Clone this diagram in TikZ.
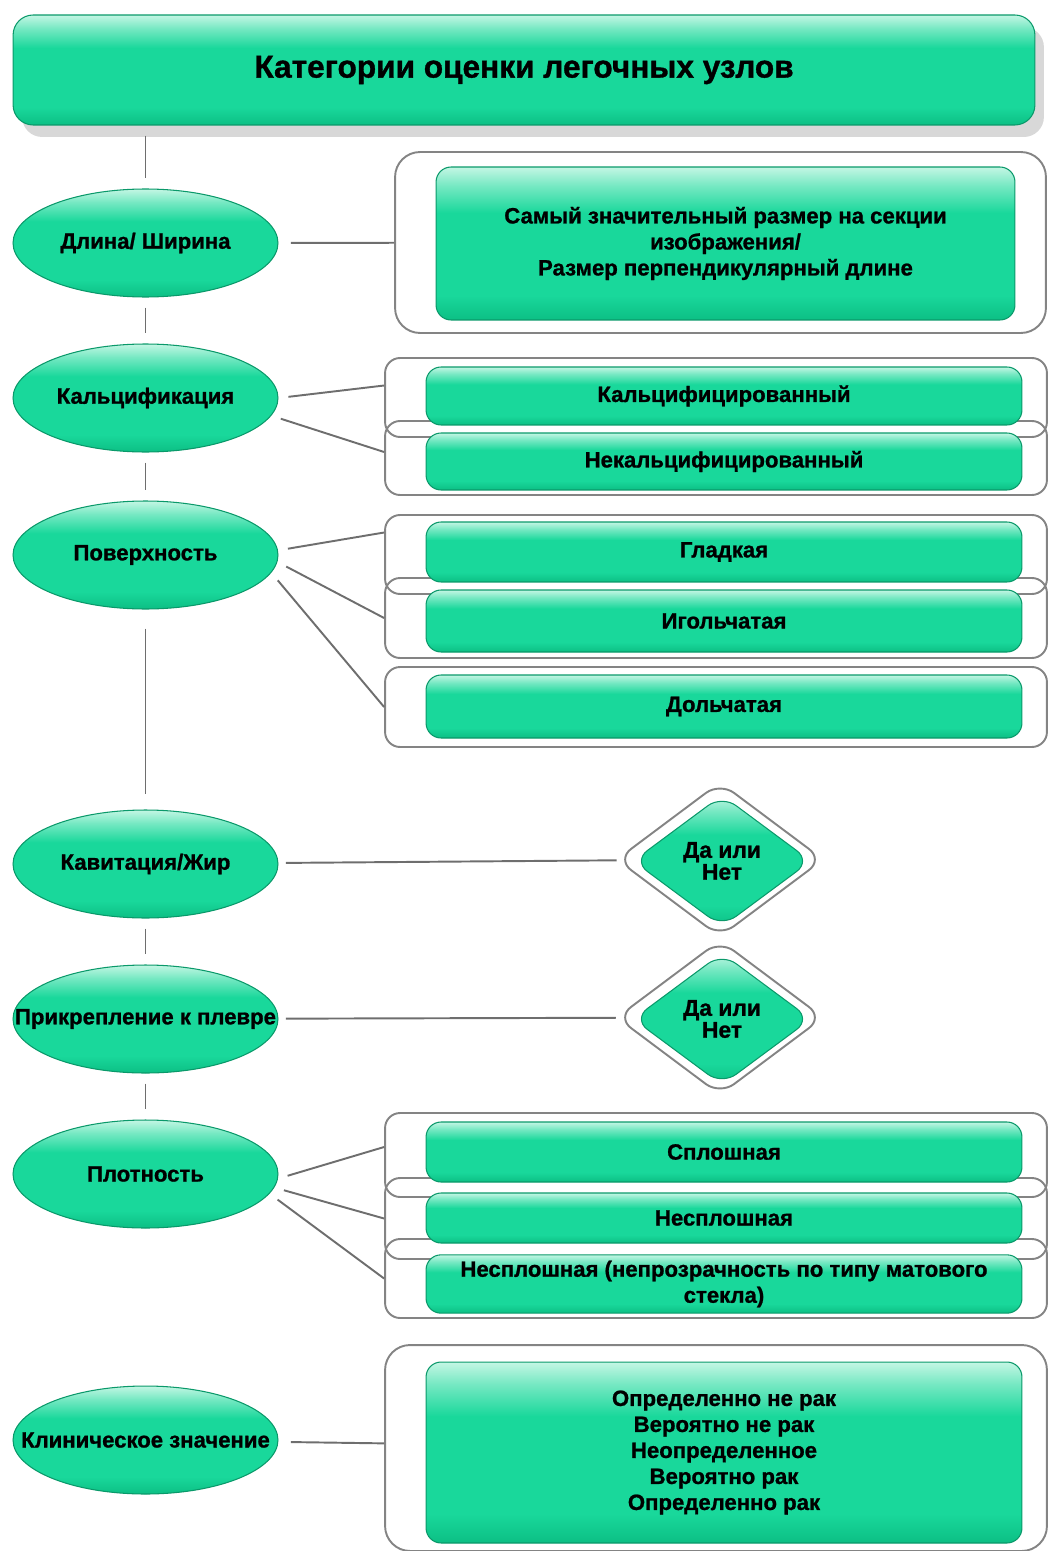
\documentclass[tikz,border=0pt]{standalone}
\usepackage{fontspec}
\setmainfont{Liberation Sans}[BoldFeatures={FakeBold=1}]
\usetikzlibrary{shapes.geometric,shadows}
\definecolor{mint}{HTML}{C4F6E4}
\definecolor{leaf}{HTML}{19D89B}
\definecolor{deepleaf}{HTML}{0CBF84}
\definecolor{wire}{HTML}{6E6E6E}
\pgfdeclareverticalshading{gloss}{100bp}{color(0bp)=(deepleaf); color(25bp)=(deepleaf); color(33bp)=(leaf); color(60bp)=(leaf); color(69bp)=(mint!55!leaf); color(75bp)=(mint); color(100bp)=(mint)}
\newcommand{\squeeze}[1]{\makebox[3cm]{#1}}
\tikzset{
  greenfill/.style={shading=gloss,draw=deepleaf!80!black,line width=0.6pt},
  titlebox/.style={greenfill,rounded corners=0.4cm,minimum width=20.44cm,minimum height=2.2cm,
    font=\bfseries\fontsize{18}{20}\selectfont,drop shadow={shadow xshift=0.18cm,shadow yshift=-0.24cm,fill=black!30}},
  bubble/.style={greenfill,ellipse,minimum width=5.3cm,minimum height=2.16cm,inner sep=0pt,
    font=\bfseries\fontsize{12.6}{14}\selectfont},
  frame/.style={draw=wire!85,line width=1.1pt,rounded corners=0.3cm,minimum width=13.24cm},
  panel/.style={greenfill,rounded corners=0.3cm,minimum width=11.92cm,align=center,
    font=\bfseries\fontsize{12.6}{14.8}\selectfont},
  outerdia/.style={diamond,draw=wire!85,line width=1.1pt,rounded corners=0.35cm,minimum width=4.14cm,minimum height=3.1cm},
  innerdia/.style={diamond,greenfill,rounded corners=0.35cm,minimum width=3.56cm,minimum height=2.64cm,inner sep=0pt,
    align=center,font=\bfseries\fontsize{13}{12.5}\selectfont},
  link/.style={draw=wire,line width=1.1pt},
  stem/.style={link,shorten >=0.2cm,shorten <=0.2cm}
}
\begin{document}
\begin{tikzpicture}[x=0.02cm,y=-0.02cm]
  \useasboundingbox (0,0) rectangle (1051,1551);
  \node[titlebox] (title) at (524,70) {Категории оценки легочных узлов};
  \node[bubble] (len) at (145.5,243) {\squeeze{Длина/ Ширина}};
  \node[bubble] (calc) at (145.5,398) {\squeeze{Кальцификация}};
  \node[bubble] (surf) at (145.5,555) {\squeeze{Поверхность}};
  \node[bubble] (cav) at (145.5,864) {\squeeze{Кавитация/Жир}};
  \node[bubble] (pleura) at (145.5,1019) {\squeeze{Прикрепление к плевре}};
  \node[bubble] (dens) at (145.5,1174) {\squeeze{Плотность}};
  \node[bubble] (clin) at (145.5,1440) {\squeeze{Клиническое значение}};
  \draw[stem] (title.south -| len) -- (len);
  \draw[stem] (len) -- (calc);
  \draw[stem] (calc) -- (surf);
  \draw[stem,shorten <=0.38cm,shorten >=0.3cm] (surf) -- (cav);
  \draw[stem] (cav) -- (pleura);
  \draw[stem] (pleura) -- (dens);
  \node[frame,minimum width=13.02cm,minimum height=3.62cm,rounded corners=0.5cm] (lenF) at (720.5,242.5) {};
  \node[panel,minimum width=11.58cm,minimum height=3.06cm] (lenP) at (725.5,243.5)
    {Самый значительный размер на секции\\изображения/\\Размер перпендикулярный длине};
  \node[frame,minimum height=1.58cm] (calcF1) at (716,397.5) {};
  \node[frame,minimum height=1.48cm] (calcF2) at (716,458) {};
  \node[panel,minimum height=1.16cm] (calcP1) at (724,396) {Кальцифицированный};
  \node[panel,minimum height=1.14cm] (calcP2) at (724,461.5) {Некальцифицированный};
  \node[frame,minimum height=1.58cm] (surfF1) at (716,554.5) {};
  \node[frame,minimum height=1.6cm] (surfF2) at (716,618) {};
  \node[frame,minimum height=1.6cm] (surfF3) at (716,707) {};
  \node[panel,minimum height=1.2cm] (surfP1) at (724,552) {Гладкая};
  \node[panel,minimum height=1.24cm] (surfP2) at (724,621) {Игольчатая};
  \node[panel,minimum height=1.26cm] (surfP3) at (724,706.5) {Дольчатая};
  \node[outerdia] (cavF) at (720,859.5) {};
  \node[innerdia] (cavP) at (722,861) {Да или\\Нет};
  \node[outerdia] (pleuraF) at (720,1017.5) {};
  \node[innerdia] (pleuraP) at (722,1019) {Да или\\Нет};
  \node[frame,minimum height=1.68cm] (densF1) at (716,1155) {};
  \node[frame,minimum height=1.62cm] (densF2) at (716,1218.5) {};
  \node[frame,minimum height=1.58cm] (densF3) at (716,1278.5) {};
  \node[panel,minimum height=1.2cm] (densP1) at (724,1152) {Сплошная};
  \node[panel,minimum height=1.0cm] (densP2) at (724,1218) {Несплошная};
  \node[panel,minimum height=1.16cm] (densP3) at (724,1284)
    {Несплошная (непрозрачность по типу матового\\стекла)};
  \node[frame,minimum height=4.12cm,rounded corners=0.5cm] (clinF) at (716,1448) {};
  \node[panel,minimum height=3.62cm] (clinP) at (724,1452.5)
    {Определенно не рак\\Вероятно не рак\\Неопределенное\\Вероятно рак\\Определенно рак};
  \draw[link,shorten <=0.25cm] (len) -- (lenF);
  \draw[link,shorten <=0.2cm] (calc.0) -- ([yshift=0.24cm]calcF1.west);
  \draw[link,shorten <=0.2cm] (calc.-8) -- ([yshift=0.12cm]calcF2.west);
  \draw[link,shorten <=0.2cm] (surf.2) -- ([yshift=0.44cm]surfF1.west);
  \draw[link,shorten <=0.2cm] (surf.-3) -- (surfF2.west);
  \draw[link,shorten <=0.2cm] (surf.-8) -- (surfF3.west);
  \draw[link,shorten <=0.15cm] (cav) -- (cavF);
  \draw[link,shorten <=0.15cm] (pleura) -- (pleuraF);
  \draw[link,shorten <=0.2cm] (dens.-2) -- ([yshift=0.16cm]densF1.west);
  \draw[link,shorten <=0.2cm] (dens.-6) -- (densF2.west);
  \draw[link,shorten <=0.2cm] (dens.-9) -- (densF3.west);
  \draw[link,shorten <=0.25cm] (clin) -- (clinF);
\end{tikzpicture}
\end{document}
